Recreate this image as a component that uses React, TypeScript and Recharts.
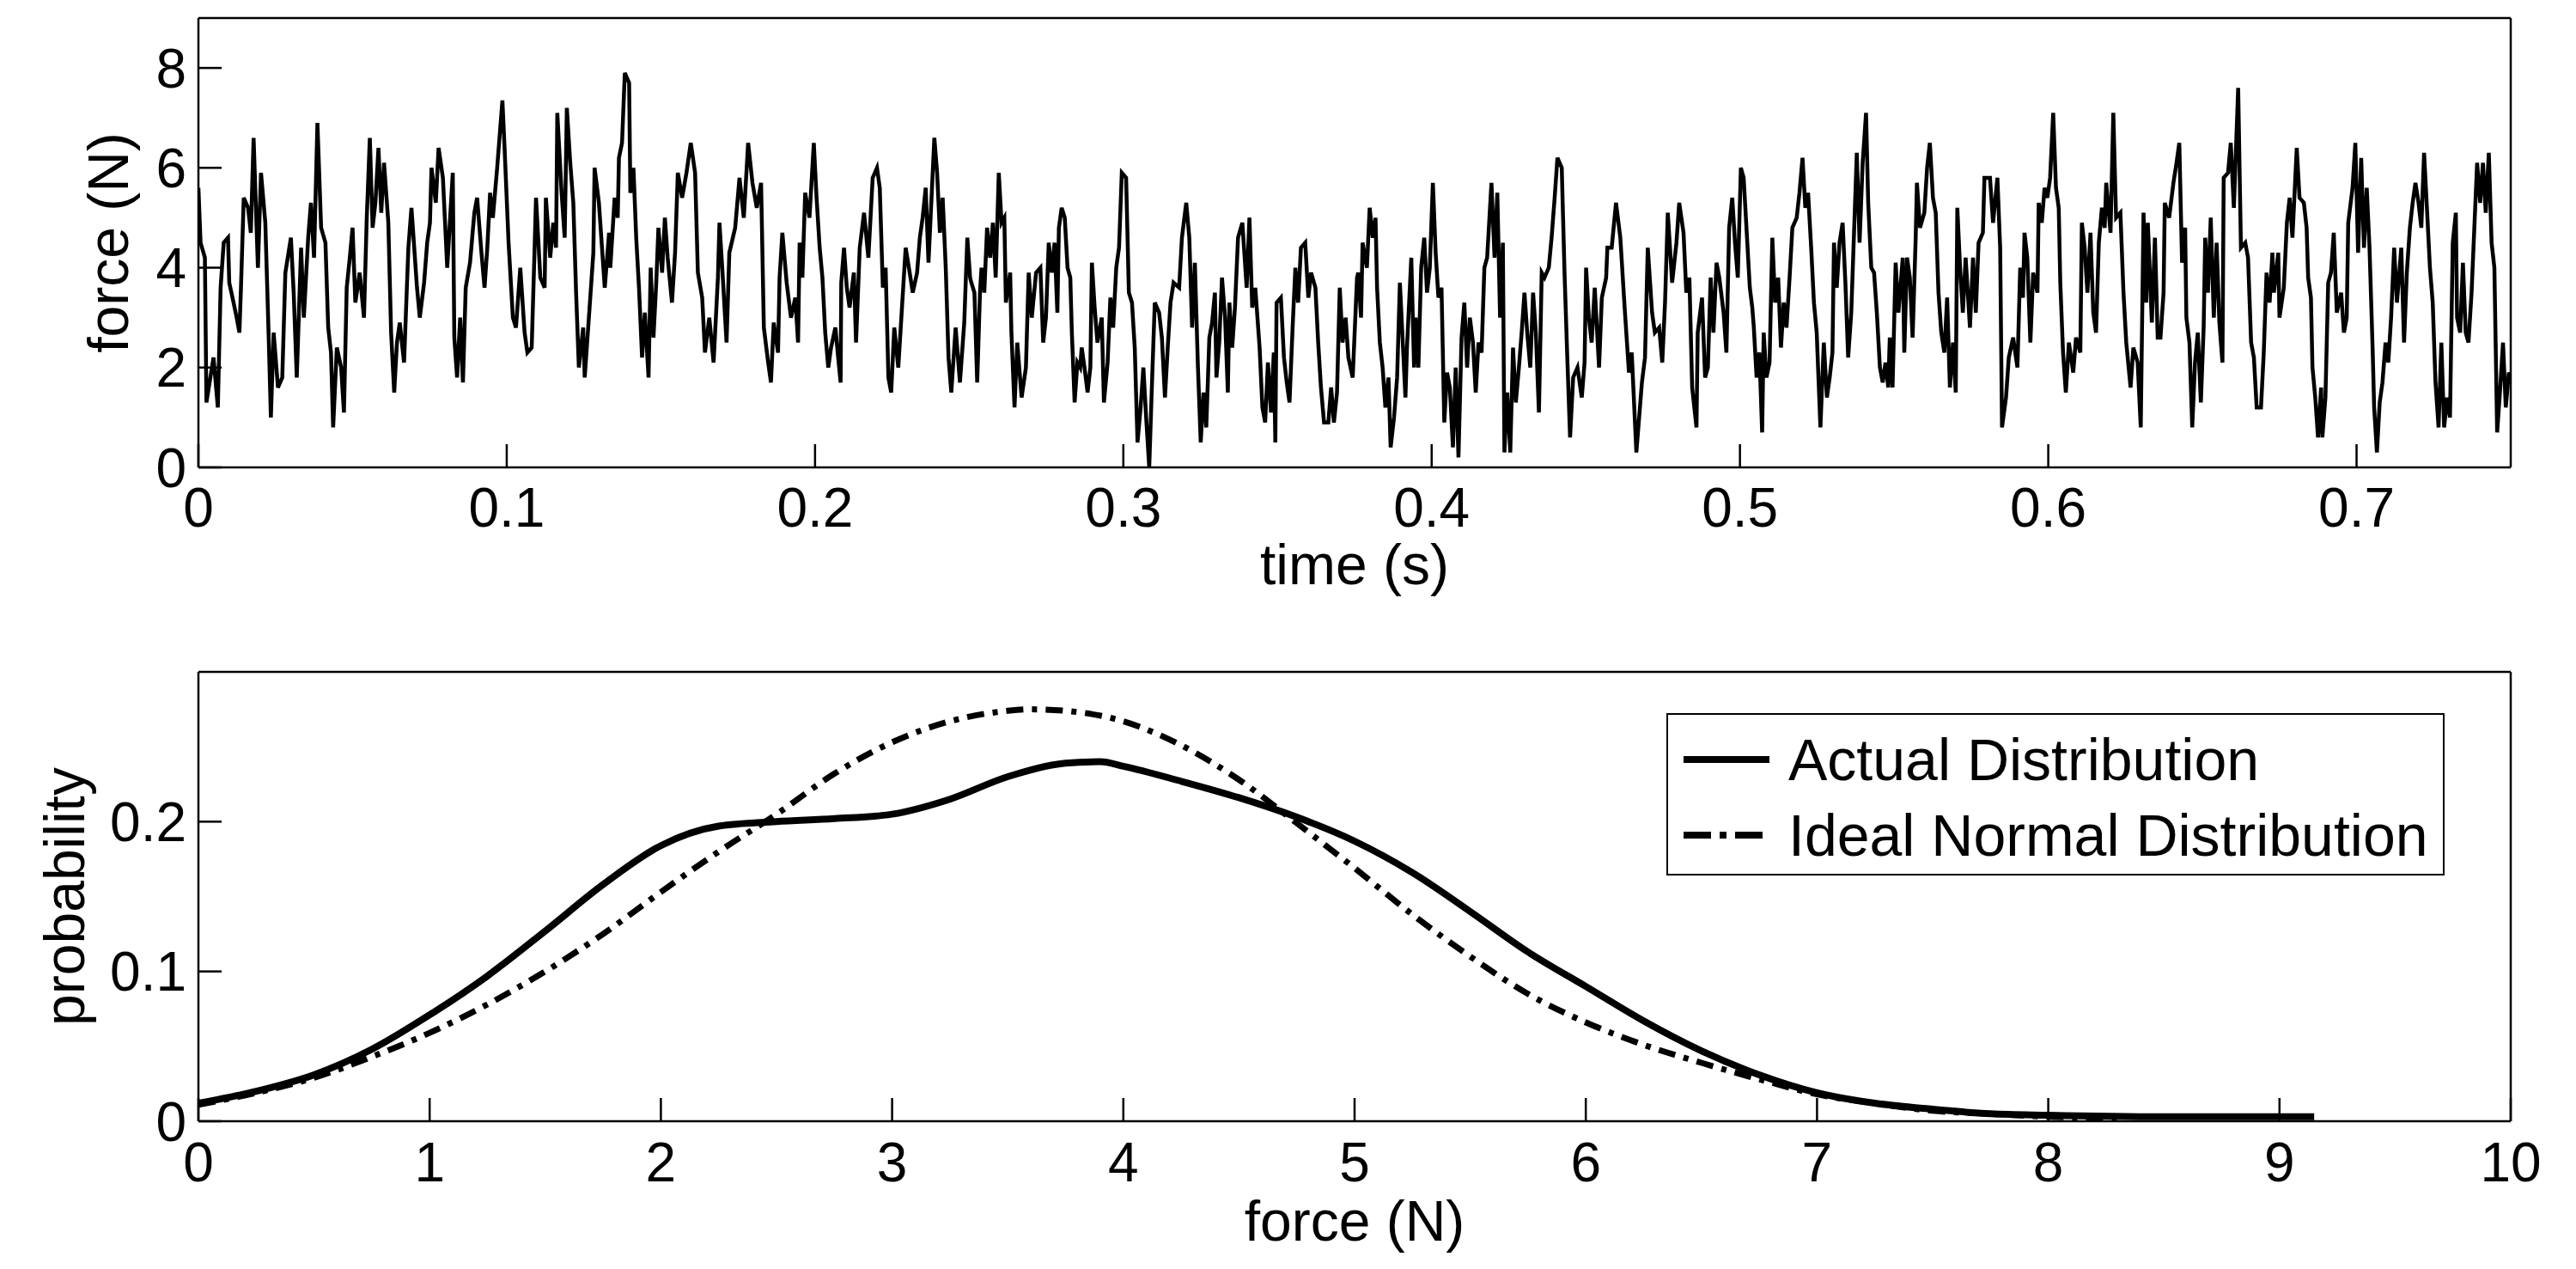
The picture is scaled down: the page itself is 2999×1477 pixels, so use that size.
import React from "react";
import { LineChart, Line, XAxis, YAxis, Legend } from "recharts";

// force trace as [time in ms, force in N]
const trace000: [number, number][] = [
  [0, 5.6], [0.7, 4.5], [2.1, 4.2], [2.6, 1.3], [4.9, 2.2], [6.3, 1.2], [7.2, 3.6], [8.2, 4.5],
  [9.6, 4.6], [10.0, 3.7], [11.4, 3.3], [12.4, 3.0], [13.3, 2.7], [13.8, 3.6], [14.7, 5.4], [16.1, 5.2],
  [17.0, 4.7], [17.9, 6.6], [19.3, 4.0], [20.3, 5.9], [21.7, 4.9], [22.8, 2.6], [23.5, 1.0], [24.4, 2.7],
  [25.8, 1.6], [27.2, 1.8], [28.2, 3.9], [30.0, 4.6], [30.9, 3.5], [31.9, 1.8], [33.3, 4.4], [34.2, 3.0],
  [35.6, 4.6], [36.5, 5.3], [37.5, 4.2], [38.6, 6.9], [39.8, 4.8], [41.2, 4.5], [42.1, 2.8], [43.0, 2.3],
  [43.7, 0.8], [44.9, 2.4], [46.3, 2.0], [47.2, 1.1], [48.1, 3.6], [49.1, 4.2], [50.0, 4.8], [50.9, 3.3],
  [52.3, 3.9], [53.7, 3.0], [54.6, 5.0], [55.6, 6.6], [56.5, 4.8], [57.4, 5.3], [58.4, 6.4], [59.3, 5.1],
  [60.2, 6.1], [61.6, 4.9], [62.5, 2.7], [63.5, 1.5], [64.4, 2.5], [65.3, 2.9], [66.7, 2.1], [68.1, 4.4],
  [69.1, 5.2], [70.9, 3.6], [71.8, 3.0], [73.2, 3.7], [74.2, 4.5], [75.1, 4.9], [75.6, 6.0], [77.0, 5.3],
  [77.9, 6.4], [79.3, 5.8], [80.7, 4.0], [82.5, 5.9], [83.0, 2.6], [83.9, 1.8], [84.9, 3.0], [85.8, 1.7],
  [86.7, 3.6], [88.1, 4.1], [89.5, 5.1], [90.4, 5.4], [91.8, 4.3], [92.8, 3.6], [93.7, 4.4], [94.6, 5.5],
  [95.5, 5.0], [96.9, 6.0], [98.6, 7.35], [99.3, 6.4], [100.6, 4.5], [102.0, 3.0], [103.0, 2.8], [104.4, 4.0],
  [105.8, 2.7], [106.7, 2.3], [108.1, 2.4], [109.0, 4.3], [109.5, 5.4], [110.9, 3.8], [112.3, 3.6], [112.7, 5.4],
  [114.1, 4.2], [115.1, 4.9], [116.0, 4.4], [116.4, 7.1], [117.8, 5.5], [118.8, 4.6], [119.5, 7.2], [120.6, 6.1],
  [121.6, 5.3], [122.5, 3.5], [123.4, 2.0], [124.8, 2.8],
];

const trace125: [number, number][] = [
  [125.3, 1.8], [127.1, 3.4], [128.1, 4.3], [128.5, 6.0], [129.9, 5.3], [130.9, 4.4], [131.8, 3.6], [133.2, 4.7],
  [133.6, 4.0], [135.0, 5.4], [136.0, 5.0], [136.4, 6.2], [137.4, 6.5], [138.3, 7.9], [139.7, 7.7], [140.1, 5.5],
  [141.1, 6.0], [142.0, 4.6], [142.9, 3.6], [143.9, 2.2], [144.8, 3.1], [146.0, 1.8], [146.7, 4.0], [147.6, 2.6],
  [148.5, 3.7], [149.2, 4.8], [150.4, 3.9], [151.3, 5.0], [152.2, 4.2], [153.6, 3.3], [154.6, 4.3], [155.5, 5.9],
  [156.9, 5.4], [158.3, 5.9], [159.7, 6.5], [161.1, 5.9], [162.0, 3.9], [163.4, 3.4], [164.3, 2.3], [165.7, 3.0],
  [167.1, 2.1], [168.5, 3.8], [169.0, 4.9], [169.9, 4.0], [171.3, 2.5], [172.2, 4.3], [174.1, 4.8], [175.5, 5.8],
  [176.9, 5.0], [178.3, 6.5], [179.7, 5.7], [181.1, 5.2], [182.5, 5.7], [183.4, 2.8], [184.8, 2.1], [185.7, 1.7],
  [186.6, 2.9], [188.0, 2.3], [188.5, 3.8], [189.4, 4.7], [190.8, 3.7], [192.2, 3.0], [193.6, 3.4], [194.5, 2.5],
  [195.0, 4.5], [195.9, 3.8], [196.8, 5.5], [198.2, 5.0], [199.6, 6.5], [200.5, 5.4], [201.5, 4.4], [202.4, 3.8],
  [203.3, 2.7], [204.3, 2.0], [205.2, 2.4], [206.6, 2.8], [207.5, 2.2], [208.3, 1.7], [208.5, 3.7], [209.4, 4.4],
  [210.3, 3.6], [211.2, 3.2], [212.6, 3.9], [213.3, 2.5], [214.5, 4.4], [215.9, 5.1], [217.3, 4.2], [218.7, 5.8],
  [220.1, 6.0], [221.0, 5.6], [222.0, 3.6], [222.9, 4.0], [223.8, 1.8], [224.7, 1.5], [225.7, 2.8], [227.0, 2.0],
  [228.4, 3.4], [229.4, 4.4], [230.7, 3.9], [231.7, 3.5], [233.1, 3.9], [234.0, 4.6], [234.9, 5.0], [235.9, 5.6],
  [236.8, 4.1], [238.7, 6.6], [239.6, 5.9], [240.5, 4.7], [241.4, 5.4], [242.4, 4.0], [243.3, 2.2], [244.2, 1.5],
  [245.6, 2.8], [247.0, 1.7], [248.4, 2.9], [249.4, 4.6], [250.3, 3.8],
];

const trace250: [number, number][] = [
  [250.7, 3.7], [251.7, 3.5], [252.6, 1.7], [253.5, 3.5], [254.0, 4.0], [254.9, 3.5], [255.8, 4.8], [256.8, 4.2],
  [257.7, 4.9], [258.6, 3.8], [259.6, 5.9], [260.5, 4.9], [261.4, 5.0], [261.9, 3.3], [263.3, 3.9], [263.7, 2.7],
  [264.7, 1.2], [265.6, 2.5], [267.0, 1.4], [268.4, 2.0], [269.3, 3.9], [270.3, 3.0], [271.7, 3.9], [273.1, 4.0],
  [274.0, 2.5], [274.9, 3.0], [275.8, 4.5], [276.8, 3.9], [277.7, 4.5], [278.6, 3.1], [279.1, 4.8], [280.0, 5.2],
  [281.0, 5.0], [281.9, 4.0], [282.8, 3.8], [283.3, 2.7], [284.2, 1.3], [285.1, 2.1], [286.0, 2.0], [286.5, 2.4],
  [287.4, 2.0], [288.4, 1.5], [289.3, 2.0], [289.8, 4.1], [290.7, 3.2], [291.6, 2.5], [293.0, 3.0], [293.7, 1.3],
  [294.9, 2.1], [295.8, 3.4], [296.7, 2.8], [297.7, 4.0], [298.6, 4.4], [299.5, 5.9], [300.9, 5.8], [301.8, 3.5],
  [302.8, 3.3], [303.7, 2.4], [304.6, 0.5], [305.6, 1.2], [306.5, 2.0], [307.4, 1.0], [308.4, 0.0], [309.3, 1.7],
  [310.2, 3.3], [311.6, 3.1], [312.5, 2.6], [313.5, 1.4], [314.4, 2.4], [315.3, 3.3], [316.3, 3.7], [318.1, 3.6],
  [319.0, 4.6], [320.4, 5.3], [321.4, 4.6], [322.3, 2.8], [323.2, 4.1], [324.2, 2.0], [325.1, 0.5], [326.0, 1.5],
  [326.9, 0.8], [327.9, 2.6], [328.8, 2.9], [329.7, 3.5], [330.2, 1.8], [331.1, 2.5], [332.0, 3.8], [333.0, 3.0],
  [333.9, 1.5], [334.4, 3.3], [335.3, 2.4], [336.2, 3.2], [337.2, 4.6], [338.6, 4.9], [340.0, 3.6], [340.9, 5.0],
  [341.8, 3.2], [342.8, 3.6], [344.2, 2.4], [345.1, 1.2], [346.0, 0.9], [346.9, 2.1], [347.9, 1.1], [348.8, 2.3],
  [349.3, 0.5], [349.7, 3.3], [351.1, 3.4], [352.1, 2.2], [353.0, 1.7], [353.9, 1.3], [354.9, 2.8], [355.8, 4.0],
  [356.7, 3.3], [357.6, 4.4], [359.0, 4.5], [360.0, 3.4], [360.9, 3.9], [362.3, 3.6], [363.2, 2.5], [364.1, 1.6],
  [365.1, 0.9], [366.5, 0.9], [367.4, 1.6], [368.3, 0.9], [369.3, 1.5], [370.2, 3.6], [371.1, 2.5], [372.1, 3.0],
  [373.0, 2.2], [374.4, 1.8], [375.8, 3.8],
];

const trace375: [number, number][] = [
  [376.2, 3.9], [377.1, 3.0], [377.6, 4.5], [379.0, 4.0], [379.9, 5.2], [380.9, 4.6], [381.8, 5.0], [382.3, 3.6],
  [383.2, 2.5], [384.1, 2.0], [385.0, 1.2], [386.0, 1.8], [386.7, 0.4], [387.8, 1.0], [388.8, 1.8], [389.7, 3.7],
  [391.5, 1.4], [392.0, 2.4], [393.4, 4.2], [394.3, 2.0], [394.8, 3.0], [395.7, 2.0], [396.6, 4.0], [397.6, 4.6],
  [398.5, 3.5], [399.4, 4.0], [400.4, 5.7], [401.3, 4.3], [402.2, 3.4], [403.2, 3.6], [404.1, 0.9], [405.0, 1.9],
  [405.9, 1.6], [406.9, 0.4], [407.8, 2.0], [408.7, 0.2], [409.7, 2.6], [410.6, 3.3], [411.5, 2.0], [412.4, 3.0],
  [413.4, 2.5], [414.3, 1.5], [415.2, 2.5], [416.2, 2.3], [417.1, 4.0], [418.0, 4.2], [419.4, 5.7], [420.4, 4.2],
  [421.3, 5.5], [422.2, 3.0], [423.1, 4.5], [423.6, 0.3], [424.5, 1.5], [425.5, 0.3], [426.4, 2.4], [427.3, 1.3],
  [428.3, 2.0], [429.2, 2.7], [430.1, 3.5], [431.0, 2.7], [432.0, 2.0], [432.9, 3.5], [433.8, 2.7], [434.8, 1.1],
  [435.7, 3.9], [436.6, 3.8], [438.0, 4.0], [438.9, 4.6], [439.9, 5.4], [440.8, 6.2], [442.2, 6.0], [443.1, 3.9],
  [444.0, 2.2], [444.9, 0.6], [445.9, 1.8], [447.3, 2.0], [448.7, 1.4], [449.6, 2.1], [450.1, 4.0], [451.0, 3.0],
  [451.9, 2.5], [452.9, 3.6], [454.3, 2.0], [455.2, 3.4], [456.6, 3.8], [457.0, 4.4], [458.4, 4.4], [459.8, 5.3],
  [461.2, 4.6], [462.6, 3.2], [464.0, 1.9], [464.9, 2.3], [466.4, 0.3], [467.3, 1.0], [468.2, 1.7], [469.2, 2.2],
  [470.1, 4.4], [471.5, 3.1], [472.4, 2.7], [473.8, 2.8], [474.8, 2.1], [475.7, 3.3], [476.6, 5.1], [478.0, 3.7],
  [479.4, 4.5], [480.3, 5.3], [481.7, 4.7], [482.6, 3.5], [483.6, 3.8], [484.5, 1.6], [485.9, 0.8], [486.3, 2.7],
  [487.7, 3.4], [488.7, 1.8], [489.6, 2.0], [490.5, 3.8], [491.4, 2.7], [492.4, 4.1], [493.3, 3.8], [494.7, 3.1],
  [495.6, 2.3], [496.5, 4.8], [497.5, 5.4], [498.4, 4.5], [499.3, 3.8], [500.3, 6.0], [501.2, 5.8],
];

const trace500: [number, number][] = [
  [502.2, 4.7], [503.2, 3.6], [504.0, 3.2], [504.5, 2.8], [505.4, 1.8], [506.3, 2.3], [507.2, 0.7], [507.7, 2.7],
  [508.6, 1.8], [509.6, 2.1], [510.5, 4.6], [511.4, 3.3], [512.4, 3.8], [513.3, 2.4], [514.2, 3.3], [515.1, 2.8],
  [516.1, 3.8], [517.0, 4.8], [518.4, 5.0], [519.3, 5.5], [520.3, 6.2], [521.2, 5.2], [522.1, 5.5], [523.1, 4.4],
  [524.0, 3.3], [524.9, 2.7], [525.4, 1.9], [526.1, 0.8], [527.2, 2.5], [528.2, 1.4], [529.1, 1.8], [530.0, 2.3],
  [530.5, 4.5], [531.4, 3.6], [532.3, 4.5], [533.3, 4.9], [534.2, 3.7], [535.1, 2.2], [536.1, 3.1], [537.0, 4.7],
  [537.9, 6.3], [538.8, 4.5], [539.8, 6.1], [540.9, 7.1], [541.6, 5.3], [542.6, 4.0], [543.5, 3.9], [544.4, 3.1],
  [545.4, 2.0], [546.3, 1.7], [547.2, 2.1], [548.1, 1.6], [548.6, 2.6], [549.5, 1.6], [550.5, 4.1], [551.4, 3.1],
  [552.8, 4.2], [553.3, 2.3], [554.2, 4.2], [555.1, 3.8], [556.0, 2.6], [557.0, 4.6], [557.4, 5.7], [558.4, 4.8],
  [559.8, 5.1], [560.7, 6.0], [561.6, 6.5], [562.6, 5.4], [563.5, 5.1], [564.4, 3.5], [565.3, 2.7], [566.3, 2.3],
  [567.2, 3.4], [568.1, 1.6], [569.1, 2.5], [570.0, 1.5], [570.5, 5.2], [571.4, 4.0], [572.3, 3.1], [573.2, 4.2],
  [574.6, 2.8], [575.6, 4.2], [576.5, 3.1], [577.4, 4.5], [578.8, 4.7], [579.3, 5.8], [581.1, 5.8], [582.1, 4.9],
  [583.5, 5.8], [584.4, 4.4], [585.0, 0.8], [586.3, 1.4], [587.2, 2.2], [588.6, 2.6], [590.0, 2.0], [590.9, 4.0],
  [591.8, 3.4], [592.3, 4.7], [593.2, 4.2], [594.2, 2.5], [595.1, 3.9], [596.5, 3.5], [596.9, 5.3], [597.9, 4.9],
  [598.8, 5.6], [599.7, 5.4], [600.6, 5.8], [601.6, 7.1], [602.5, 5.6], [603.4, 5.2], [603.9, 3.7], [604.8, 2.3],
  [605.7, 1.5], [606.7, 2.5], [608.1, 1.9], [609.0, 2.6], [610.4, 2.3], [610.9, 4.9], [611.8, 4.4], [612.7, 3.5],
  [613.7, 4.7], [614.6, 3.1], [615.5, 2.7], [616.4, 4.5], [617.4, 5.2], [618.3, 4.8], [618.8, 5.7], [620.2, 4.7],
  [621.1, 7.1], [622.0, 5.0], [623.4, 5.1], [624.4, 3.5], [625.3, 2.5], [626.7, 1.6],
];

const trace625: [number, number][] = [
  [627.6, 2.4], [629.0, 2.1], [630.0, 0.8], [630.9, 5.1], [631.8, 3.3], [632.3, 4.9], [633.6, 2.9], [634.6, 4.6],
  [635.5, 2.6], [636.4, 2.6], [637.4, 3.5], [637.8, 5.3], [639.2, 5.0], [640.6, 5.7], [641.6, 6.1], [642.5, 6.5],
  [643.4, 4.1], [644.4, 4.8], [644.8, 3.0], [645.8, 2.5], [646.7, 0.8], [647.6, 2.1], [648.5, 2.7], [649.5, 1.3],
  [650.4, 2.8], [650.9, 4.6], [651.8, 3.5], [652.7, 5.0], [653.7, 3.0], [654.6, 4.5], [655.5, 2.9], [656.5, 2.1],
  [656.9, 5.8], [658.3, 5.9], [659.2, 6.5], [660.2, 5.2], [661.6, 7.6], [662.5, 4.4], [663.9, 4.5], [664.8, 4.2],
  [665.8, 2.5], [666.7, 2.2], [667.6, 1.2], [669.0, 1.2], [669.9, 2.3], [670.8, 3.9], [671.8, 3.3], [672.7, 4.3],
  [673.2, 3.5], [674.6, 4.3], [675.0, 3.0], [676.4, 3.6], [677.4, 4.9], [678.3, 5.4], [679.2, 4.6], [680.6, 6.4],
  [681.5, 5.4], [682.9, 5.3], [683.8, 4.8], [684.3, 3.8], [685.2, 3.4], [685.7, 2.0], [686.6, 1.4], [687.5, 0.6],
  [688.5, 1.6], [688.9, 0.6], [689.9, 1.4], [690.8, 3.7], [691.7, 3.9], [692.6, 4.7], [693.6, 3.1], [695.0, 3.5],
  [695.9, 2.7], [696.8, 3.0], [697.3, 4.9], [698.7, 5.6], [699.6, 6.5], [700.5, 4.3], [701.5, 6.2], [702.4, 4.4],
  [703.3, 5.6], [704.2, 4.4], [705.2, 2.4], [705.7, 1.2], [706.6, 0.3], [707.5, 1.3], [708.4, 1.7], [709.4, 2.5],
  [710.3, 2.1], [711.2, 3.0], [712.2, 4.4], [713.1, 3.3], [714.5, 4.4], [715.4, 2.5], [716.3, 3.9], [717.3, 4.8],
  [718.2, 5.3], [719.1, 5.7], [720.1, 5.3], [721.0, 4.8], [721.9, 6.3], [722.9, 5.1], [723.8, 4.0], [724.7, 3.3],
  [725.6, 1.7], [726.6, 0.8], [727.5, 2.5], [728.4, 0.8], [729.4, 1.4], [730.3, 1.0], [731.2, 4.5], [732.2, 5.1],
  [732.6, 3.0], [733.6, 2.7], [734.5, 4.1], [735.4, 2.7], [736.3, 2.5], [737.3, 3.5], [738.2, 4.8], [739.1, 6.1],
  [740.1, 5.3], [741.0, 6.1], [741.9, 5.1], [742.9, 6.3], [743.8, 4.5], [744.7, 4.0], [745.6, 0.7], [746.6, 1.6],
  [747.5, 2.5], [748.4, 1.2], [749.4, 1.9], [750.0, 1.8],
];

const timeTicks = [0, 0.1, 0.2, 0.3, 0.4, 0.5, 0.6, 0.7];
const forceTicks = [0, 2, 4, 6, 8];

// probability curves
const actualForce = [0, 0.25, 0.5, 0.75, 1, 1.25, 1.5, 1.75, 2, 2.25, 2.5, 2.75, 3, 3.25, 3.5, 3.75, 3.9, 4, 4.25, 4.5, 4.75, 5, 5.25, 5.5, 5.75, 6, 6.25, 6.5, 6.75, 7, 7.25, 7.5, 7.75, 8, 8.5, 9.15];
const actualProb = [0.012, 0.02, 0.031, 0.048, 0.071, 0.097, 0.127, 0.158, 0.184, 0.197, 0.2, 0.202, 0.205, 0.215, 0.23, 0.239, 0.24, 0.237, 0.227, 0.216, 0.203, 0.187, 0.166, 0.14, 0.113, 0.09, 0.067, 0.047, 0.031, 0.019, 0.012, 0.008, 0.005, 0.004, 0.003, 0.003];
const idealForce = [0, 0.25, 0.5, 0.75, 1, 1.25, 1.5, 1.75, 2, 2.25, 2.5, 2.75, 3, 3.25, 3.5, 3.6, 3.75, 4, 4.25, 4.5, 4.75, 5, 5.25, 5.5, 5.75, 6, 6.25, 6.5, 6.75, 7, 7.25, 7.5, 7.75, 8, 8.3];
const idealProb = [0.011, 0.019, 0.029, 0.043, 0.059, 0.078, 0.1, 0.125, 0.153, 0.18, 0.205, 0.232, 0.253, 0.267, 0.274, 0.275, 0.274, 0.267, 0.251, 0.228, 0.199, 0.169, 0.138, 0.11, 0.085, 0.066, 0.051, 0.039, 0.028, 0.018, 0.012, 0.007, 0.005, 0.003, 0.002];

const binTicks = [0, 1, 2, 3, 4, 5, 6, 7, 8, 9, 10];
const probTicks = [0, 0.1, 0.2];

const FONT = '"Liberation Sans", Arial, sans-serif';
const tickStyle = { fill: "#000", fontSize: 64, fontFamily: FONT };
const frame = { stroke: "#000", strokeWidth: 2.5 };

const W = 2999;
const LEFT = 231;
const RIGHT = 76;

const traceData = [...trace000, ...trace125, ...trace250, ...trace375, ...trace500, ...trace625].map(
  ([ms, f]) => ({ t: ms / 1000, f })
);
const actualData = actualForce.map((x, i) => ({ x, p: actualProb[i] }));
const idealData = idealForce.map((x, i) => ({ x, p: idealProb[i] }));

const axisText = (text: string, x: number, y: number, rotate = false) => () => (
  <text
    x={x}
    y={y}
    textAnchor="middle"
    dominantBaseline={rotate ? "central" : "auto"}
    transform={rotate ? `rotate(-90 ${x} ${y})` : undefined}
    fill="#000"
    fontSize={66}
    fontFamily={FONT}
  >
    {text}
  </text>
);

const LegendBox = ({ payload }: any) => (
  <div
    style={{
      border: "2.5px solid #000",
      background: "#fff",
      boxSizing: "border-box",
      width: 906,
      height: 189,
      paddingTop: 8,
      fontFamily: FONT,
      fontSize: 68,
    }}
  >
    {(payload || []).map((item: any) => (
      <div key={item.value} style={{ display: "flex", alignItems: "center", height: 88 }}>
        <svg width={112} height={20} style={{ marginLeft: 18, marginRight: 10 }}>
          <line
            x1={0}
            y1={10}
            x2={100}
            y2={10}
            stroke="#000"
            strokeWidth={8}
            strokeDasharray={item.payload?.strokeDasharray ? "32 10 8 10" : undefined}
          />
        </svg>
        <span style={{ color: "#000", lineHeight: 1 }}>{item.value}</span>
      </div>
    ))}
  </div>
);

export default function App() {
  const plotMidX = LEFT + (W - LEFT - RIGHT) / 2;
  return (
    <div style={{ position: "absolute", left: 0, top: 0, width: W, height: 1477, background: "#fff" }}>
      <LineChart width={W} height={720} data={traceData} margin={{ top: 0, right: 0, bottom: 0, left: 0 }}>
        <XAxis
          dataKey="t"
          type="number"
          domain={[0, 0.75]}
          ticks={timeTicks}
          allowDataOverflow
          interval={0}
          height={176}
          tickSize={-27}
          tickMargin={51}
          tick={tickStyle}
          axisLine={frame}
          tickLine={frame}
          label={axisText("time (s)", plotMidX, 680)}
        />
        <XAxis
          xAxisId="top"
          orientation="top"
          dataKey="t"
          type="number"
          domain={[0, 0.75]}
          ticks={timeTicks}
          allowDataOverflow
          interval={0}
          height={21}
          tickSize={-27}
          tick={false}
          axisLine={frame}
          tickLine={frame}
        />
        <YAxis
          type="number"
          domain={[0, 9]}
          ticks={forceTicks}
          allowDataOverflow
          interval={0}
          width={LEFT}
          tickSize={-27}
          tickMargin={41}
          tick={tickStyle}
          axisLine={frame}
          tickLine={frame}
          label={axisText("force (N)", 126, 282.5, true)}
        />
        <YAxis
          yAxisId="right"
          orientation="right"
          type="number"
          domain={[0, 9]}
          ticks={forceTicks}
          allowDataOverflow
          interval={0}
          width={RIGHT}
          tickSize={-27}
          tick={false}
          axisLine={frame}
          tickLine={frame}
        />
        <Line
          dataKey="f"
          type="linear"
          stroke="#000"
          strokeWidth={4.5}
          dot={false}
          isAnimationActive={false}
        />
      </LineChart>

      <LineChart width={W} height={757} margin={{ top: 0, right: 0, bottom: 0, left: 0 }}>
        <XAxis
          dataKey="x"
          type="number"
          domain={[0, 10]}
          ticks={binTicks}
          allowDataOverflow
          interval={0}
          height={172}
          tickSize={-27}
          tickMargin={52}
          tick={tickStyle}
          axisLine={frame}
          tickLine={frame}
          label={axisText("force (N)", plotMidX, 724)}
        />
        <XAxis
          xAxisId="top"
          orientation="top"
          dataKey="x"
          type="number"
          domain={[0, 10]}
          ticks={binTicks}
          allowDataOverflow
          interval={0}
          height={62}
          tickSize={-27}
          tick={false}
          axisLine={frame}
          tickLine={frame}
        />
        <YAxis
          type="number"
          domain={[0, 0.3]}
          ticks={probTicks}
          allowDataOverflow
          interval={0}
          width={LEFT}
          tickSize={-27}
          tickMargin={41}
          tick={tickStyle}
          axisLine={frame}
          tickLine={frame}
          label={axisText("probability", 75, 323.5, true)}
        />
        <YAxis
          yAxisId="right"
          orientation="right"
          type="number"
          domain={[0, 0.3]}
          ticks={probTicks}
          allowDataOverflow
          interval={0}
          width={RIGHT}
          tickSize={-27}
          tick={false}
          axisLine={frame}
          tickLine={frame}
        />
        <Legend
          layout="horizontal"
          verticalAlign="middle"
          align="center"
          content={LegendBox}
          wrapperStyle={{ left: 1940, top: 110, width: 906, height: 189 }}
        />
        <Line
          data={actualData}
          dataKey="p"
          name="Actual Distribution"
          type="monotone"
          stroke="#000"
          strokeWidth={8}
          dot={false}
          isAnimationActive={false}
        />
        <Line
          data={idealData}
          dataKey="p"
          name="Ideal Normal Distribution"
          type="monotone"
          stroke="#000"
          strokeWidth={7}
          strokeDasharray="20 10 6 10"
          dot={false}
          isAnimationActive={false}
        />
      </LineChart>
    </div>
  );
}
